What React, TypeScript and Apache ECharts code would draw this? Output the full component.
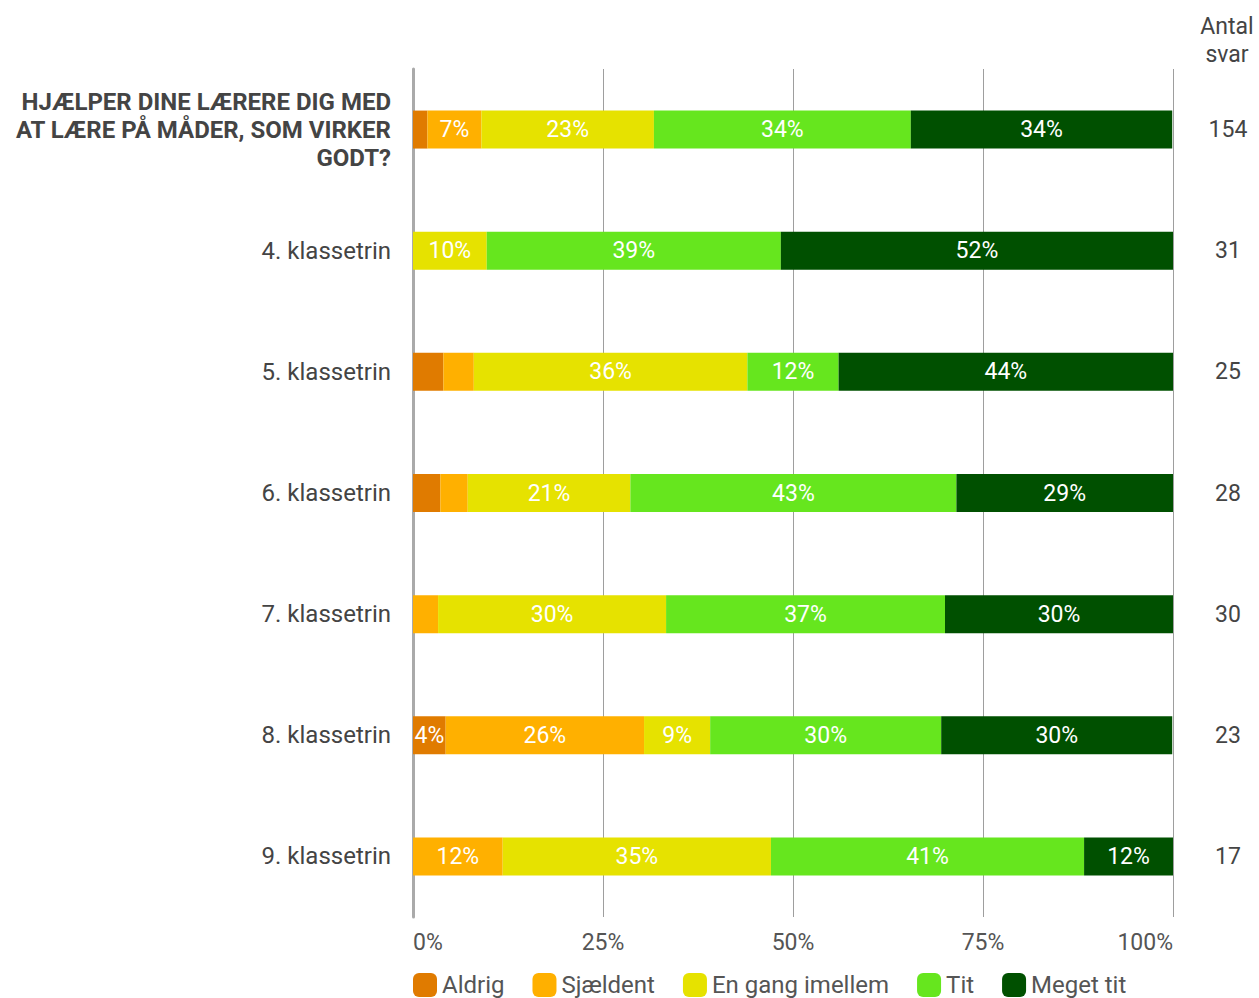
import React, { useEffect, useRef } from "react";
import * as echarts from "echarts";

const categories = [
  "HJÆLPER DINE LÆRERE DIG MED\nAT LÆRE PÅ MÅDER, SOM VIRKER\nGODT?",
  "4. klassetrin",
  "5. klassetrin",
  "6. klassetrin",
  "7. klassetrin",
  "8. klassetrin",
  "9. klassetrin",
];
const counts = ["154", "31", "25", "28", "30", "23", "17"];
const seriesNames = ["Aldrig", "Sjældent", "En gang imellem", "Tit", "Meget tit"];
const aldrig = [1.9, 0, 4, 3.6, 0, 4.3, 0];
const sjaeldent = [7.1, 0, 4, 3.6, 3.3, 26.1, 11.8];
const enGang = [22.7, 9.7, 36, 21.4, 30, 8.7, 35.3];
const tit = [33.8, 38.7, 12, 42.9, 36.7, 30.4, 41.2];
const megetTit = [34.4, 51.6, 44, 28.6, 30, 30.4, 11.8];
const xTicks = [0, 25, 50, 75, 100];
const colors = ["#E07B00", "#FFB000", "#E6E200", "#66E61E", "#005000"];

export default function App() {
  const ref = useRef<HTMLDivElement>(null);
  useEffect(() => {
    if (!ref.current) return;
    const chart = echarts.init(ref.current, null, { renderer: "svg" });
    const values = [aldrig, sjaeldent, enGang, tit, megetTit];
    const font = "Roboto";
    chart.setOption({
      animation: false,
      textStyle: { fontFamily: font },
      grid: { left: 413, right: 86, top: 69, bottom: 81, containLabel: false },
      xAxis: {
        type: "value",
        min: xTicks[0],
        max: xTicks[xTicks.length - 1],
        interval: 25,
        axisLine: { show: false },
        axisTick: { show: false },
        splitLine: { show: true, lineStyle: { color: "#9e9e9e", width: 1 } },
        axisLabel: {
          formatter: (v: number) => v + "%",
          color: "#555",
          fontSize: 23,
          fontFamily: font,
          margin: 14,
          alignMinLabel: "left",
          alignMaxLabel: "right",
        },
      },
      yAxis: [
        {
          type: "category",
          data: categories,
          inverse: true,
          axisLine: { show: true, lineStyle: { color: "#aaa", width: 3 } },
          axisTick: { show: false },
          axisLabel: {
            color: "#444",
            fontSize: 24,
            fontFamily: font,
            margin: 22,
            align: "right",
            formatter: (v: string, i: number) => (i === 0 ? "{b|" + v + "}" : v),
            rich: {
              b: {
                fontWeight: "bold",
                fontSize: 24,
                lineHeight: 28,
                color: "#444",
                fontFamily: font,
                align: "right",
              },
            },
          },
        },
        {
          type: "category",
          data: counts,
          inverse: true,
          position: "right",
          axisLine: { show: false },
          axisTick: { show: false },
          axisLabel: {
            color: "#444",
            fontSize: 23,
            fontFamily: font,
            margin: 55,
            align: "center",
          },
        },
      ],
      legend: {
        left: 413,
        top: 973,
        padding: 0,
        itemWidth: 24,
        itemHeight: 24,
        itemGap: 28,
        icon: "roundRect",
        textStyle: { fontSize: 24, color: "#555", fontFamily: font },
        data: seriesNames,
      },
      graphic: [
        {
          type: "text",
          x: 1227,
          y: 26,
          style: {
            text: "Antal",
            fontSize: 23,
            fill: "#444",
            fontFamily: font,
            align: "center",
            verticalAlign: "middle",
          },
        },
        {
          type: "text",
          x: 1227,
          y: 54,
          style: {
            text: "svar",
            fontSize: 23,
            fill: "#444",
            fontFamily: font,
            align: "center",
            verticalAlign: "middle",
          },
        },
      ],
      series: seriesNames.map((name, k) => ({
        name,
        type: "bar",
        stack: "total",
        yAxisIndex: 0,
        barWidth: 38,
        itemStyle: { color: colors[k] },
        label: {
          show: true,
          position: "inside",
          color: "#fff",
          fontSize: 23,
          fontFamily: font,
          formatter: (p: any) => (p.value >= 4.2 ? Math.round(p.value) + "%" : ""),
        },
        data: values[k],
      })),
    });
    return () => chart.dispose();
  }, []);
  return (
    <div
      ref={ref}
      style={{ position: "absolute", left: 0, top: 0, width: 1259, height: 998 }}
    />
  );
}
